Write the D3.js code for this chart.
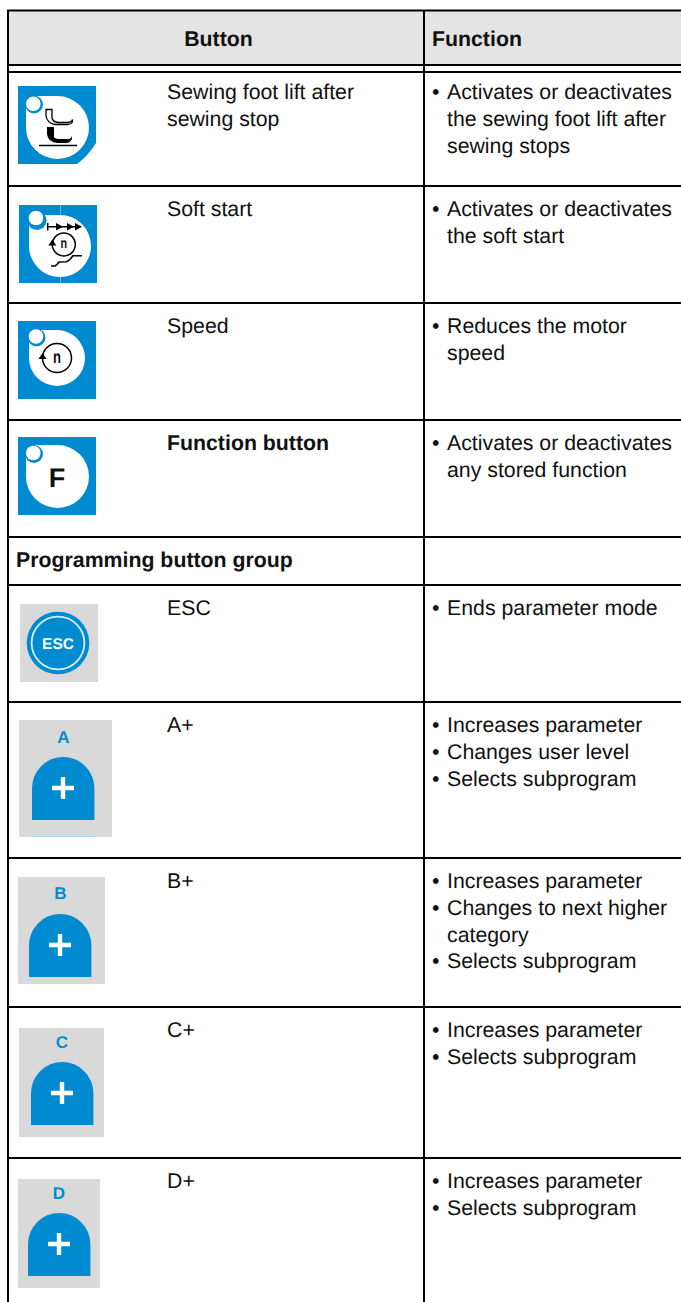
<!DOCTYPE html>
<html>
<head>
<meta charset="utf-8">
<script src="https://cdn.jsdelivr.net/npm/d3@7"></script>
<style>
  html, body { margin: 0; padding: 0; background: #fff; }
  svg { display: block; }
  text { font-family: "Liberation Sans", Arial, sans-serif; font-size: 21.3px; fill: #111; text-rendering: geometricPrecision; }
</style>
</head>
<body>
<div id="chart"></div>
<script>
// Table content
var rowNames = ["foot", "soft", "speed", "func", "group", "esc", "a", "b", "c", "d"];
var headers = ["Button", "Function"];
var buttonLabels = [
    ["Sewing foot lift after", "sewing stop"],
    ["Soft start"],
    ["Speed"],
    ["Function button"],
    [],
    ["ESC"],
    ["A+"],
    ["B+"],
    ["C+"],
    ["D+"]
];
var functionLines = [
    [["Activates or deactivates", "the sewing foot lift after", "sewing stops"]],
    [["Activates or deactivates", "the soft start"]],
    [["Reduces the motor", "speed"]],
    [["Activates or deactivates", "any stored function"]],
    [],
    [["Ends parameter mode"]],
    [["Increases parameter"], ["Changes user level"], ["Selects subprogram"]],
    [["Increases parameter"], ["Changes to next higher", "category"], ["Selects subprogram"]],
    [["Increases parameter"], ["Selects subprogram"]],
    [["Increases parameter"], ["Selects subprogram"]]
];
var groupTitle = "Programming button group";
var keyLetters = ["A", "B", "C", "D"];

// Layout, separate from the content
var w = 681;
var h = 1302;
var blue = "#008bd0";
var grey = "#d9d9d9";
var rowY = d3.scaleOrdinal().domain(rowNames)
    .range([72, 186, 303, 420, 537, 585, 702, 858, 1007, 1158]);
var colX = d3.scaleOrdinal().domain(["left", "button", "col", "bullet", "func"])
    .range([8, 167, 424, 432, 447]);
var lineStep = 26.8;

var svg = d3.select("#chart")
    .append("svg")
    .attr("width", w)
    .attr("height", h);

// Header band
svg.append("rect")
    .attr("x", 9).attr("y", 11)
    .attr("width", w - 9).attr("height", 54)
    .attr("fill", "#e4e4e4");

svg.append("text")
    .attr("x", 218.5).attr("y", 46)
    .attr("text-anchor", "middle")
    .attr("font-weight", "bold")
    .text(headers[0]);

svg.append("text")
    .attr("x", 432).attr("y", 46)
    .attr("font-weight", "bold")
    .text(headers[1]);

// Rules
var hLines = [10.5, 65, rowY("foot")].concat(rowNames.slice(1).map(rowY));
svg.selectAll("line.h")
    .data(hLines)
    .enter()
    .append("line")
    .attr("class", "h")
    .attr("x1", colX("left") - 1)
    .attr("x2", w)
    .attr("y1", function(d) { return d; })
    .attr("y2", function(d) { return d; })
    .attr("stroke", "#000")
    .attr("stroke-width", 2);

svg.selectAll("line.v")
    .data([colX("left"), colX("col")])
    .enter()
    .append("line")
    .attr("class", "v")
    .attr("x1", function(d) { return d; })
    .attr("x2", function(d) { return d; })
    .attr("y1", 10)
    .attr("y2", h)
    .attr("stroke", "#000")
    .attr("stroke-width", 2);

// Cell text
rowNames.forEach(function(name, i) {
    var first = rowY(name) + (name == "foot" ? 27 : 30);

    svg.selectAll("text.b" + i)
        .data(buttonLabels[i])
        .enter()
        .append("text")
        .attr("class", "b" + i)
        .attr("x", colX("button"))
        .attr("y", function(d, j) { return first + j * lineStep; })
        .attr("font-weight", name == "func" ? "bold" : null)
        .text(function(d) { return d; });

    var n = 0;
    functionLines[i].forEach(function(item) {
        svg.append("text")
            .attr("x", colX("bullet"))
            .attr("y", first + n * lineStep)
            .text("\u2022");
        item.forEach(function(line) {
            svg.append("text")
                .attr("x", colX("func"))
                .attr("y", first + n * lineStep)
                .text(line);
            n++;
        });
    });
});

svg.append("text")
    .attr("x", 16).attr("y", 567)
    .attr("font-weight", "bold")
    .text(groupTitle);

// White drop on a blue square, small dot at the square corner
function dropIcon(x, y, wx, wy, r, dot, ring, ringR, shape) {
    var g = svg.append("g").attr("transform", "translate(" + x + "," + y + ")");
    if (shape) {
        g.append("path").attr("d", shape).attr("fill", blue);
    } else {
        g.append("rect").attr("width", 78).attr("height", 78).attr("fill", blue);
    }

    // the drop's sharp corner is cut back to the dot centre, the dot covers it
    var path = d3.path();
    path.moveTo(ring[0], ring[1]);
    path.lineTo(ring[0], wy);
    path.lineTo(wx + r, wy);
    path.arc(wx + r, wy + r, r, -Math.PI / 2, Math.PI, false);
    path.lineTo(wx, ring[1]);
    path.closePath();
    g.append("path").attr("d", path.toString()).attr("fill", "#fff");

    g.append("circle").attr("cx", ring[0]).attr("cy", ring[1]).attr("r", ringR).attr("fill", blue);
    g.append("circle").attr("cx", dot[0]).attr("cy", dot[1]).attr("r", 7.3).attr("fill", "#fff");
    return g;
}

function rotationMark(g, cx, cy, r, size, nw, sw) {
    g.append("circle")
        .attr("cx", cx).attr("cy", cy).attr("r", r)
        .attr("fill", "none").attr("stroke", "#000").attr("stroke-width", sw);
    g.append("path")
        .attr("d", "M" + (cx - r) + "," + (cy - 5) + "l4,6h-8z")
        .attr("fill", "#000");
    g.append("text")
        .attr("x", cx).attr("y", cy + size * 0.26)
        .attr("text-anchor", "middle")
        .attr("font-weight", "bold")
        .attr("textLength", nw)
        .attr("lengthAdjust", "spacingAndGlyphs")
        .style("font-size", size + "px")
        .text("n");
}

// Sewing foot lift
var foot = dropIcon(18, 86, 8, 10, 31.5, [15.3, 17.8], [16, 18.5], 9, "M0,0H78V57Q70,70 59,78H0Z");
foot.append("path")
    .attr("d", "M28,23.5H34V32Q35,36 40,36.5H50Q54,36 54.5,33.5V36Q53,38.5 50,38.5H37Q29,37 28,30Z")
    .attr("fill", "#fff").attr("stroke", "#000").attr("stroke-width", 1.3);
foot.append("path")
    .attr("d", "M29,41H36V51Q37,53 42,53H50Q53,53 54,50V53Q52,57 48,57H39Q30,56 29,48Z")
    .attr("fill", "#000");
foot.append("line")
    .attr("x1", 21).attr("x2", 59).attr("y1", 59.5).attr("y2", 59.5)
    .attr("stroke", "#000").attr("stroke-width", 1.5);

// Soft start
var soft = dropIcon(19, 205, 10, 10, 31, [17, 13], [18, 15.5], 9.5);
soft.append("line")
    .attr("x1", 41.5).attr("x2", 41.5).attr("y1", 0).attr("y2", 10)
    .attr("stroke", "#fff").attr("stroke-opacity", 0.4);
soft.append("line")
    .attr("x1", 41.5).attr("x2", 41.5).attr("y1", 72).attr("y2", 78)
    .attr("stroke", "#fff").attr("stroke-opacity", 0.4);
soft.append("path")
    .attr("d", "M28.7,21.7H60M28.7,18V25.4")
    .attr("stroke", "#000").attr("stroke-width", 1.5).attr("fill", "none");
soft.append("path")
    .attr("d", "M37,18L44,21.7L37,25.4ZM48,18L55,21.7L48,25.4ZM56,18L63,21.7L56,25.4Z")
    .attr("fill", "#000");
rotationMark(soft, 44.8, 39.5, 11.5, 14.5, 6.6, 1.5);
soft.append("path")
    .attr("d", "M32,61L36,61Q38,60 40,57L47.5,56.7Q50,56 54,50.7L63,50.7")
    .attr("fill", "none").attr("stroke", "#000").attr("stroke-width", 1.6);

// Speed
var speed = dropIcon(18, 321, 11, 9, 28, [18, 15.5], [18.5, 16.5], 9);
rotationMark(speed, 39, 37, 14.5, 18, 8, 1.5);

// Function button
var func = dropIcon(18, 437, 8, 8, 31.5, [15.3, 16], [16, 17], 9);
func.append("text")
    .attr("x", 39).attr("y", 50)
    .attr("text-anchor", "middle")
    .attr("font-weight", "bold")
    .style("font-size", "27px")
    .text("F");

// ESC
svg.append("rect")
    .attr("x", 20).attr("y", 604).attr("width", 78).attr("height", 78)
    .attr("fill", grey);
svg.append("circle")
    .attr("cx", 58).attr("cy", 643).attr("r", 31.3)
    .attr("fill", blue);
svg.append("circle")
    .attr("cx", 58).attr("cy", 643).attr("r", 26.4)
    .attr("fill", "none").attr("stroke", "#dcecf5").attr("stroke-width", 1.8);
svg.append("text")
    .attr("x", 58).attr("y", 649)
    .attr("text-anchor", "middle")
    .attr("font-weight", "bold")
    .style("fill", "#fff")
    .style("font-size", "15.5px")
    .text("ESC");

// A+ to D+ keys
var keyBox = d3.scaleOrdinal().domain(keyLetters).range([
    { x: 19, y: 720, w: 93, h: 117, kx: 32, ky: 757, lx: 63.5, ly: 743, px: 63, py: 788 },
    { x: 18, y: 877, w: 87, h: 107, kx: 29, ky: 914, lx: 60.5, ly: 899, px: 60, py: 945 },
    { x: 19, y: 1028, w: 85, h: 109, kx: 31, ky: 1062, lx: 62, ly: 1048, px: 62, py: 1093 },
    { x: 18, y: 1179, w: 82, h: 109, kx: 28, ky: 1213, lx: 59, ly: 1199, px: 59, py: 1244 }
]);

keyLetters.forEach(function(letter) {
    var b = keyBox(letter);
    var r = 31.2;
    svg.append("rect")
        .attr("x", b.x).attr("y", b.y).attr("width", b.w).attr("height", b.h)
        .attr("fill", grey);

    var path = d3.path();
    path.moveTo(b.kx, b.ky + 63);
    path.lineTo(b.kx, b.ky + r);
    path.arc(b.kx + r, b.ky + r, r, Math.PI, 0, false);
    path.lineTo(b.kx + 2 * r, b.ky + 63);
    path.closePath();
    svg.append("path").attr("d", path.toString()).attr("fill", blue);

    svg.append("path")
        .attr("d", "M" + (b.px - 11) + "," + b.py + "H" + (b.px + 11) + "M" + b.px + "," + (b.py - 11) + "V" + (b.py + 11))
        .attr("stroke", "#fff").attr("stroke-width", 4.4);

    svg.append("text")
        .attr("x", b.lx).attr("y", b.ly)
        .attr("text-anchor", "middle")
        .attr("font-weight", "bold")
        .style("fill", blue)
        .style("font-size", "17px")
        .text(letter);
});

// Thin pale line at the foot of the A key
svg.append("line")
    .attr("x1", 32).attr("x2", 95).attr("y1", 836.5).attr("y2", 836.5)
    .attr("stroke", "#a9d6ee");
</script>
</body>
</html>
